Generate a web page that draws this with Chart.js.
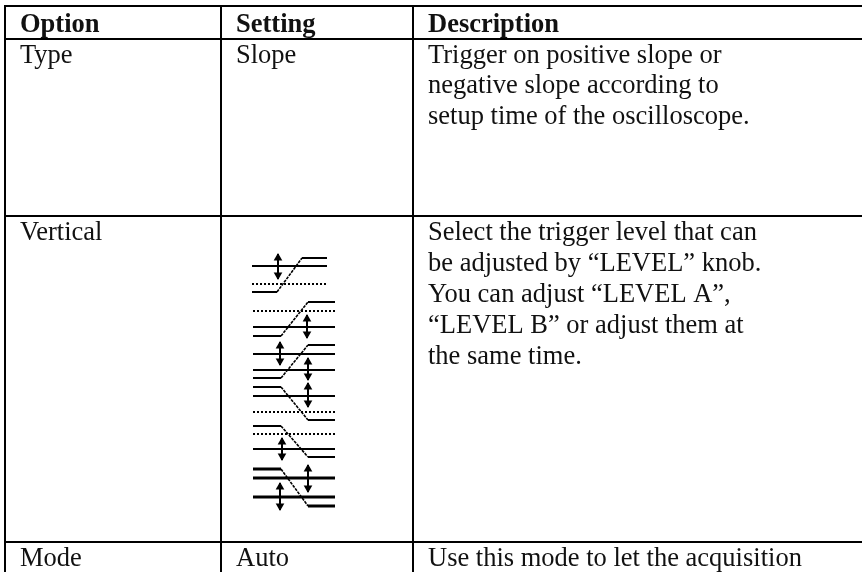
<!DOCTYPE html>
<html>
<head>
<meta charset="utf-8">
<style>
  html, body { margin: 0; padding: 0; background: #fff; }
  canvas { display: block; }
</style>
<script src="https://cdn.jsdelivr.net/npm/chart.js@4"></script>
</head>
<body>
<canvas id="tableChart" width="862" height="572"></canvas>
<script>
// table text
const headers = ['Option', 'Setting', 'Description'];
const optionLabels = ['Type', 'Vertical', 'Mode'];
const settingLabels = ['Slope', '', 'Auto'];
const descriptionLines = [
    ['Trigger on positive slope or', 'negative slope according to', 'setup time of the oscilloscope.'],
    ['Select the trigger level that can', 'be adjusted by “LEVEL” knob.', 'You can adjust “LEVEL A”,', '“LEVEL B” or adjust them at', 'the same time.'],
    ['Use this mode to let the acquisition']
];

// in picture units
const columnLefts = [20, 236, 428];
const headerBaseline = 32;
const rowBaselines = [[63, 93, 124], [240, 271, 302, 333, 364], [566]];

const gridColumns = [5, 221, 413];
const gridRows = [6, 39, 216, 542];

// x1, y1, x2, y2
const solidLines = [
    [302, 258, 327, 258], [252, 266, 327, 266], [252, 292, 277, 292],
    [308, 302, 335, 302], [253, 327, 335, 327], [253, 336, 281, 336],
    [308, 345, 335, 345], [253, 354, 335, 354], [253, 370, 335, 370], [253, 378, 281, 378],
    [253, 387, 281, 387], [253, 396, 335, 396], [308, 420, 335, 420],
    [253, 426, 281, 426], [253, 449, 335, 449], [308, 457, 335, 457]
];
const heavyLines = [
    [253, 469, 281, 469], [253, 478, 335, 478], [253, 497, 335, 497], [308, 506, 335, 506]
];
const dottedLines = [
    [252, 284, 327, 284],
    [253, 311, 335, 311],
    [253, 412, 335, 412],
    [253, 434, 335, 434]
];
const slopeLines = [
    [277, 292, 302, 258],
    [281, 336, 308, 302],
    [281, 378, 308, 345],
    [281, 387, 308, 420],
    [281, 426, 308, 457],
    [281, 469, 308, 506]
];
const arrowX = [278, 307, 280, 308, 308, 282, 308, 280];
const arrowTop = [254, 315, 342, 358, 383, 438, 465, 483];
const arrowBottom = [279, 338, 365, 380, 407, 460, 492, 510];

function segmentsToPoints(segments) {
    const points = [];
    segments.forEach(function (s) {
        points.push({ x: s[0], y: s[1] }, { x: s[2], y: s[3] }, { x: NaN, y: NaN });
    });
    return points;
}

const gridSegments = [];
gridColumns.forEach(function (x) { gridSegments.push([x, 5, x, 572]); });
gridRows.forEach(function (y) { gridSegments.push([4, y, 862, y]); });

const stemSegments = arrowX.map(function (x, i) { return [x, arrowTop[i], x, arrowBottom[i]]; });
const arrowUps = arrowX.map(function (x, i) { return { x: x, y: arrowTop[i] + 4 }; });
const arrowDowns = arrowX.map(function (x, i) { return { x: x, y: arrowBottom[i] - 4 }; });

function lineSet(segments, width, dash) {
    return {
        type: 'line',
        data: segmentsToPoints(segments),
        borderColor: '#000',
        borderWidth: width,
        borderDash: dash || [],
        pointRadius: 0,
        tension: 0
    };
}

function headSet(points, rotation) {
    return {
        type: 'scatter',
        data: points,
        pointStyle: 'triangle',
        rotation: rotation,
        pointRadius: 5,
        backgroundColor: '#000',
        borderWidth: 0
    };
}

const tableTextPlugin = {
    id: 'tableText',
    afterDatasetsDraw(chartInstance) {
        const { ctx, scales } = chartInstance;
        const xs = scales.x;
        const ys = scales.y;
        ctx.save();
        ctx.fillStyle = '#111';
        ctx.textAlign = 'left';
        ctx.textBaseline = 'alphabetic';

        ctx.font = 'bold 26.5px "Liberation Serif"';
        headers.forEach(function (h, i) {
            ctx.fillText(h, xs.getPixelForValue(columnLefts[i]), ys.getPixelForValue(headerBaseline));
        });

        ctx.font = '26.5px "Liberation Serif"';
        rowBaselines.forEach(function (lines, row) {
            ctx.fillText(optionLabels[row], xs.getPixelForValue(columnLefts[0]), ys.getPixelForValue(lines[0]));
            ctx.fillText(settingLabels[row], xs.getPixelForValue(columnLefts[1]), ys.getPixelForValue(lines[0]));
            descriptionLines[row].forEach(function (line, i) {
                ctx.fillText(line, xs.getPixelForValue(columnLefts[2]), ys.getPixelForValue(lines[i]));
            });
        });
        ctx.restore();
    }
};

new Chart(document.getElementById('tableChart'), {
    data: {
        datasets: [
            lineSet(gridSegments, 2),
            lineSet(solidLines, 2),
            lineSet(heavyLines, 3),
            lineSet(dottedLines, 2, [2, 2]),
            lineSet(slopeLines, 1.6, [3, 1]),
            lineSet(stemSegments, 2),
            headSet(arrowUps, 0),
            headSet(arrowDowns, 180)
        ]
    },
    options: {
        responsive: false,
        animation: false,
        layout: { padding: 0, autoPadding: false },
        scales: {
            x: { type: 'linear', min: 0, max: 862, display: false },
            y: { type: 'linear', min: 0, max: 572, reverse: true, display: false }
        },
        plugins: {
            legend: { display: false },
            tooltip: { enabled: false }
        }
    },
    plugins: [tableTextPlugin]
});
</script>
</body>
</html>
